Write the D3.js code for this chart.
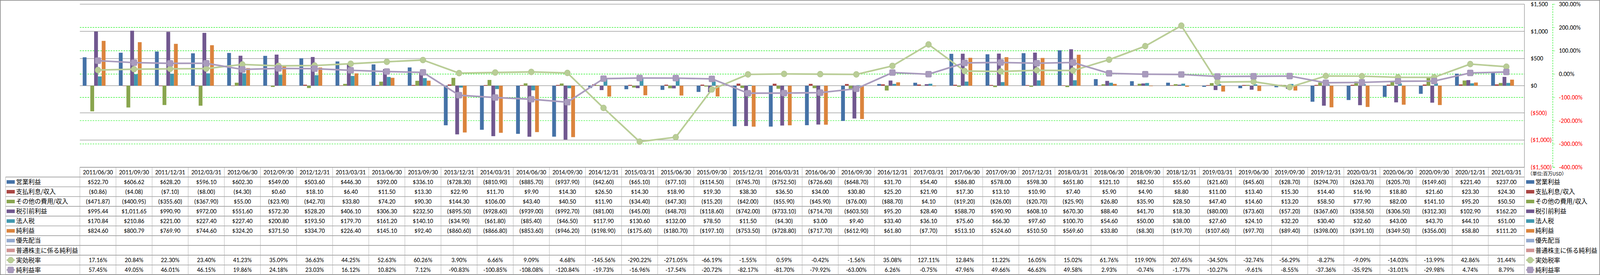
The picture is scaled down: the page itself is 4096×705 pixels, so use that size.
<!DOCTYPE html>
<html><head><meta charset="utf-8">
<script src="https://cdn.jsdelivr.net/npm/d3@7"></script>
<style>
html,body{margin:0;padding:0;background:#fff;overflow:hidden;}
svg{display:block;}
.num{font-family:Carlito,"Liberation Sans Narrow","Arial Narrow","Liberation Sans",sans-serif;}
.jp{font-family:"Noto Sans CJK JP","Noto Sans",sans-serif;}
</style></head>
<body>
<svg id="chart" width="4096" height="705" viewBox="0 0 7472 1286" preserveAspectRatio="none"></svg>
<script>
// ---------- DATA ----------
const dates = ["2011/06/30","2011/09/30","2011/12/31","2012/03/31","2012/06/30","2012/09/30","2012/12/31","2013/03/31","2013/06/30","2013/09/30","2013/12/31","2014/03/31","2014/06/30","2014/09/30","2014/12/31","2015/03/31","2015/06/30","2015/09/30","2015/12/31","2016/03/31","2016/06/30","2016/09/30","2016/12/31","2017/03/31","2017/06/30","2017/09/30","2017/12/31","2018/03/31","2018/06/30","2018/09/30","2018/12/31","2019/03/31","2019/06/30","2019/09/30","2019/12/31","2020/03/31","2020/06/30","2020/09/30","2020/12/31","2021/03/31"];
const operatingIncome = [522.70,606.62,628.20,596.10,602.30,549.00,503.60,446.30,392.00,336.10,-728.30,-810.90,-885.70,-937.90,-42.60,-65.10,-77.10,-114.50,-745.70,-752.50,-726.60,-648.70,31.70,54.40,586.80,578.00,598.30,651.80,121.10,82.50,55.60,-21.60,-45.60,-28.70,-294.70,-263.70,-205.70,-149.60,221.40,237.00];
const interest = [-0.86,-4.08,-7.10,-8.00,-4.30,0.60,18.10,6.40,11.50,13.30,22.90,11.70,9.90,14.30,26.50,14.30,18.90,19.30,38.30,36.50,34.00,30.80,25.20,21.90,17.30,13.10,10.90,7.40,5.90,4.90,8.80,11.00,13.40,15.30,14.40,16.90,18.80,21.60,23.30,24.30];
const otherIncome = [-471.87,-400.95,-355.60,-367.90,55.00,-23.90,-42.70,33.80,74.20,90.30,144.30,106.00,43.40,40.50,11.90,-34.40,-47.30,-15.20,-42.00,-55.90,-45.90,-76.00,-88.70,4.10,-19.20,-26.00,-20.70,-25.90,26.80,35.90,28.50,47.40,14.60,13.20,58.50,77.90,82.00,141.10,95.20,50.50];
const preTaxIncome = [995.44,1011.65,990.90,972.00,551.60,572.30,528.20,406.10,306.30,232.50,-895.50,-928.60,-939.00,-992.70,-81.00,-45.00,-48.70,-118.60,-742.00,-733.10,-714.70,-603.50,95.20,28.40,588.70,590.90,608.10,670.30,88.40,41.70,18.30,-80.00,-73.60,-57.20,-367.60,-358.50,-306.50,-312.30,102.90,162.20];
const incomeTax = [170.84,210.86,221.00,227.40,227.40,200.80,193.50,179.70,161.20,140.10,-34.90,-61.80,-85.40,-46.50,117.90,130.60,132.00,78.50,11.50,-4.30,3.00,9.40,33.40,36.10,75.60,66.30,97.60,100.70,54.60,50.00,38.00,27.60,24.10,32.20,30.40,32.60,43.00,43.70,44.10,51.00];
const netIncome = [824.60,800.79,769.90,744.60,324.20,371.50,334.70,226.40,145.10,92.40,-860.60,-866.80,-853.60,-946.20,-198.90,-175.60,-180.70,-197.10,-753.50,-728.80,-717.70,-612.90,61.80,-7.70,513.10,524.60,510.50,569.60,33.80,-8.30,-19.70,-107.60,-97.70,-89.40,-398.00,-391.10,-349.50,-356.00,58.80,111.20];
const preferredDividends = [];
const netIncomeCommon = [];
const effectiveTaxRate = [17.16,20.84,22.30,23.40,41.23,35.09,36.63,44.25,52.63,60.26,3.90,6.66,9.09,4.68,-145.56,-290.22,-271.05,-66.19,-1.55,0.59,-0.42,-1.56,35.08,127.11,12.84,11.22,16.05,15.02,61.76,119.90,207.65,-34.50,-32.74,-56.29,-8.27,-9.09,-14.03,-13.99,42.86,31.44];
const netMargin = [57.45,49.05,46.01,46.15,19.86,24.18,23.03,16.12,10.82,7.12,-90.83,-100.85,-108.08,-120.84,-19.73,-16.96,-17.54,-20.72,-82.17,-81.70,-79.92,-63.00,6.26,-0.75,47.96,49.66,46.63,49.58,2.93,-0.74,-1.77,-10.27,-9.61,-8.55,-37.36,-35.92,-31.01,-29.98,4.74,8.79];
const moneyTicks = [1500,1000,500,0,-500,-1000,-1500];
const pctTicks = [300,200,100,0,-100,-200,-300,-400];
const unitLabel = "（単位:百万USD）";

const series = [
  {name:"営業利益", color:"#4572A7", kind:"bar", data:operatingIncome, fmt:"money"},
  {name:"支払利息/収入", color:"#AA4643", kind:"bar", data:interest, fmt:"money"},
  {name:"その他の費用/収入", color:"#89A54E", kind:"bar", data:otherIncome, fmt:"money"},
  {name:"税引前利益", color:"#71588F", kind:"bar", data:preTaxIncome, fmt:"money"},
  {name:"法人税", color:"#4198AF", kind:"bar", data:incomeTax, fmt:"money"},
  {name:"純利益", color:"#DB843D", kind:"bar", data:netIncome, fmt:"money"},
  {name:"優先配当", color:"#93A9CF", kind:"bar", data:preferredDividends, fmt:"money"},
  {name:"普通株主に係る純利益", color:"#D19392", kind:"bar", data:netIncomeCommon, fmt:"money"},
  {name:"実効税率", color:"#B9CD96", kind:"circle", data:effectiveTaxRate, fmt:"pct"},
  {name:"純利益率", color:"#A99BBD", kind:"square", data:netMargin, fmt:"pct"}
];

// ---------- LAYOUT (reference pixel units; viewBox scales to 0.548) ----------
const W = 7472, H = 1286;
const plotL = 373, plotR = 7119, plotT = 19.5, plotB = 782;
const tableTop = 782, tableBottom = 1285, tableLeft = 26;
const rowH = (tableBottom - tableTop) / 11;
const FS = 29;

const svg = d3.select("#chart");
svg.append("rect").attr("x",1.5).attr("y",1.5).attr("width",W-3).attr("height",H-3)
  .attr("fill","#fff").attr("stroke","#8a8a8a").attr("stroke-width",3);

const x = d3.scaleBand().domain(dates).range([plotL, plotR]).padding(0);
const barKeys = series.filter(s=>s.kind==="bar").map(s=>s.name);
const xs = d3.scaleBand().domain(barKeys).range([0, x.bandwidth()]).paddingInner(0).paddingOuter(0.75);
const yL = d3.scaleLinear().domain([-1500,1500]).range([plotB, plotT]);
const yR = d3.scaleLinear().domain([-400,300]).range([plotB, plotT]);

const moneyFmt = v => v==null||isNaN(v) ? "" : (v<0 ? "($"+d3.format(",.2f")(-v)+")" : "$"+d3.format(",.2f")(v));
const pctFmt = v => v==null||isNaN(v) ? "" : (v<0 ? "-"+d3.format(".2f")(-v)+"%" : d3.format(".2f")(v)+"%");
const moneyTickFmt = v => v<0 ? "($"+d3.format(",")(-v)+")" : "$"+d3.format(",")(v);

// gridlines
const grid = svg.append("g");
grid.selectAll("line.g1").data(moneyTicks).enter().append("line")
  .attr("x1",plotL).attr("x2",plotR).attr("y1",d=>yL(d)).attr("y2",d=>yL(d))
  .attr("stroke","#8c8c8c").attr("stroke-width",2.2);
grid.selectAll("line.g2").data(pctTicks.filter(d=>d!==300 && d!==-400)).enter().append("line")
  .attr("x1",plotL).attr("x2",plotR).attr("y1",d=>yR(d)).attr("y2",d=>yR(d))
  .attr("stroke","#00ee00").attr("stroke-width",2.2).attr("stroke-dasharray","7,5");
svg.append("line").attr("x1",plotR).attr("x2",plotR).attr("y1",plotT).attr("y2",plotB)
  .attr("stroke","#8c8c8c").attr("stroke-width",2.2);

// bars
const barG = svg.append("g");
series.filter(s=>s.kind==="bar").forEach(s=>{
  barG.append("g").selectAll("rect").data(s.data.map((v,i)=>({v, d:dates[i]})).filter(o=>o.v!=null))
    .enter().append("rect")
    .attr("x",o=>x(o.d)+xs(s.name))
    .attr("width",xs.bandwidth())
    .attr("y",o=>yL(Math.max(0,o.v)))
    .attr("height",o=>Math.abs(yL(o.v)-yL(0)))
    .attr("fill",s.color);
});

// lines
const cx = d => x(d)+x.bandwidth()/2;
function marker(g, kind, color, px, py){
  if(kind==="circle"){
    g.append("ellipse").attr("cx",px).attr("cy",py).attr("rx",13.5).attr("ry",14)
      .attr("fill",color).attr("stroke",d3.color(color).darker(0.15)).attr("stroke-width",2);
  } else {
    g.append("rect").attr("x",px-13.5).attr("y",py-14).attr("width",27).attr("height",28).attr("rx",5)
      .attr("fill",color).attr("stroke",d3.color(color).darker(0.15)).attr("stroke-width",2);
  }
}
series.filter(s=>s.kind!=="bar").forEach(s=>{
  const g = svg.append("g");
  const pts = s.data.map((v,i)=>({v,d:dates[i]}));
  g.append("path").datum(pts)
    .attr("d", d3.line().x(o=>cx(o.d)).y(o=>yR(o.v)))
    .attr("fill","none").attr("stroke",s.color).attr("stroke-width",7.5).attr("stroke-linejoin","round");
  pts.forEach(o=>marker(g, s.kind, s.color, cx(o.d), yR(o.v)));
});

// right $ axis
const axL = svg.append("g").attr("class","num").attr("transform",`translate(7148,0)`)
  .call(d3.axisRight(yL).tickValues(moneyTicks).tickSize(0).tickPadding(0).tickFormat(moneyTickFmt));
axL.select(".domain").remove();
axL.selectAll("text").attr("font-size",FS).attr("fill",d=>d<0?"#ff0000":"#000").attr("font-family",null);

// right % axis
const axR = svg.append("g").attr("class","num").attr("transform",`translate(7251,0)`)
  .call(d3.axisRight(yR).tickValues(pctTicks).tickSize(10).tickPadding(19).tickFormat(pctFmt));
axR.select(".domain").attr("stroke","#00ee00").attr("stroke-width",2).attr("stroke-dasharray","7,5");
axR.selectAll(".tick line").attr("stroke","#00ee00").attr("stroke-width",2).attr("stroke-dasharray","4,3");
axR.selectAll("text").attr("font-size",FS).attr("fill",d=>d<0?"#ff0000":"#000").attr("font-family",null);

// ---------- TABLE ----------
const tbl = svg.append("g");
// horizontal lines
for(let r=0;r<=11;r++){
  const yy = tableTop + r*rowH;
  tbl.append("line").attr("x1", r===0?plotL:tableLeft).attr("x2",plotR).attr("y1",yy).attr("y2",yy)
    .attr("stroke","#8c8c8c").attr("stroke-width", r===11?4:2.6);
}
// vertical lines
const vx = [tableLeft, ...dates.map(d=>x(d)), plotR];
vx.forEach((xx,i)=>{
  tbl.append("line").attr("x1",xx).attr("x2",xx)
    .attr("y1", i===0 ? tableTop+rowH : tableTop).attr("y2",tableBottom)
    .attr("stroke","#a6a6a6").attr("stroke-width",1.6);
});
// header
tbl.append("g").attr("class","num").selectAll("text").data(dates).enter().append("text")
  .attr("x",d=>cx(d)).attr("y",tableTop+rowH/2).attr("dy","0.35em").attr("text-anchor","middle")
  .attr("font-size",FS).attr("fill","#000").text(d=>d);

function legendSwatch(g, s, sx, sy){
  if(s.kind==="bar"){
    g.append("rect").attr("x",sx).attr("y",sy-8).attr("width",38).attr("height",16.5).attr("fill",s.color);
  } else {
    g.append("line").attr("x1",sx).attr("x2",sx+38).attr("y1",sy).attr("y2",sy)
      .attr("stroke",s.color).attr("stroke-width",7.5);
    marker(g, s.kind, s.color, sx+19, sy);
  }
}
series.forEach((s,i)=>{
  const yc = tableTop + rowH*(i+1) + rowH/2;
  const g = tbl.append("g");
  legendSwatch(g, s, 31, yc);
  g.append("text").attr("class","jp").attr("x",75).attr("y",yc).attr("dy","0.36em")
    .attr("font-size",FS).attr("fill","#000").text(s.name);
  g.append("g").attr("class","num").selectAll("text").data(dates).enter().append("text")
    .attr("x",d=>cx(d)).attr("y",yc).attr("dy","0.35em").attr("text-anchor","middle")
    .attr("font-size",FS).attr("fill","#000")
    .text((d,j)=> s.fmt==="money" ? moneyFmt(s.data[j]) : pctFmt(s.data[j]));
  // right legend
  const lg = svg.append("g");
  legendSwatch(lg, s, 7127, yc);
  lg.append("text").attr("class","jp").attr("x",7170).attr("y",yc).attr("dy","0.36em")
    .attr("font-size",FS).attr("fill","#000").text(s.name);
});
svg.append("text").attr("class","jp").attr("x",7134).attr("y",813).attr("dy","0.36em")
  .attr("font-size",22).attr("fill","#000").text(unitLabel);

// shrink any number that overflows its cell
const maxW = x.bandwidth()-8;
svg.selectAll(".num text").each(function(){
  const w = this.getComputedTextLength();
  if(w > maxW && this.parentNode.closest && !this.closest(".tick")){
    d3.select(this).attr("textLength",maxW).attr("lengthAdjust","spacingAndGlyphs");
  }
});
</script>
</body></html>
